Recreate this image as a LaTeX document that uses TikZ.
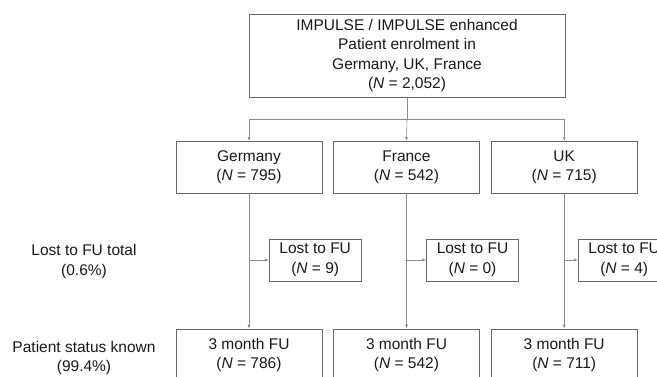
\documentclass[tikz,border=0pt]{standalone}
\usepackage{fontspec}
\setmainfont{Liberation Sans}
\usetikzlibrary{arrows.meta}
\begin{document}
\begin{tikzpicture}[x=1pt,y=-1pt,
  box/.style={draw=black!60,line width=0.6pt,fill=white,align=center,inner sep=0pt,
    font=\fontsize{15.5}{19.5}\selectfont,text=black!90},
  lbl/.style={align=center,inner sep=0pt,font=\fontsize{15.5}{19.5}\selectfont,text=black!90},
  conn/.style={draw=black!45,line width=0.6pt},
  arr/.style={conn,-{Latex[length=4pt,width=3pt]}}]
\useasboundingbox (0,0) rectangle (657,376);
\clip (0,0) rectangle (657,376);
% top
\node[box,minimum width=316pt,minimum height=83pt] (top) at (407,55.5)
  {IMPULSE / IMPULSE enhanced\\Patient enrolment in\\Germany, UK, France\\(\textit{N} = 2,052)};
% countries
\node[box,minimum width=146pt,minimum height=52pt] (ge) at (249,167.3) {Germany\\(\textit{N} = 795)};
\node[box,minimum width=146pt,minimum height=52pt] (fr) at (406.5,167.3) {France\\(\textit{N} = 542)};
\node[box,minimum width=146pt,minimum height=52pt] (uk) at (564.2,167.3) {UK\\(\textit{N} = 715)};
% lost
\node[box,minimum width=92pt,minimum height=42pt] (lg) at (315.2,260) {Lost to FU\\(\textit{N} = 9)};
\node[box,minimum width=92pt,minimum height=42pt] (lf) at (472.5,260) {Lost to FU\\(\textit{N} = 0)};
\node[box,minimum width=92pt,minimum height=42pt] (lu) at (624.2,260) {Lost to FU\\(\textit{N} = 4)};
% bottom
\node[box,minimum width=146pt,minimum height=52pt] (bg) at (249,355) {3 month FU\\(\textit{N} = 786)};
\node[box,minimum width=146pt,minimum height=52pt] (bf) at (406.5,355) {3 month FU\\(\textit{N} = 542)};
\node[box,minimum width=146pt,minimum height=52pt] (bu) at (564.2,355) {3 month FU\\(\textit{N} = 711)};
% left labels
\node[lbl] (l1) at (84,261.5) {Lost to FU total\\(0.6\%)};
\node[lbl] (l2) at (84,358) {Patient status known\\(99.4\%)};
% connectors
\coordinate (br) at (407,119);
\draw[conn] (top.south) -- (br);
\draw[arr] (br) -| (ge.north);
\draw[arr] (br) -| (uk.north);
\draw[arr] (br) -- (fr.north);
\draw[arr] (ge.south) -- (bg.north);
\draw[arr] (fr.south) -- (bf.north);
\draw[arr] (uk.south) -- (bu.north);
\draw[arr] (ge.south |- lg.west) -- (lg.west);
\draw[arr] (fr.south |- lf.west) -- (lf.west);
\draw[arr] (uk.south |- lu.west) -- (lu.west);
\end{tikzpicture}
\end{document}
